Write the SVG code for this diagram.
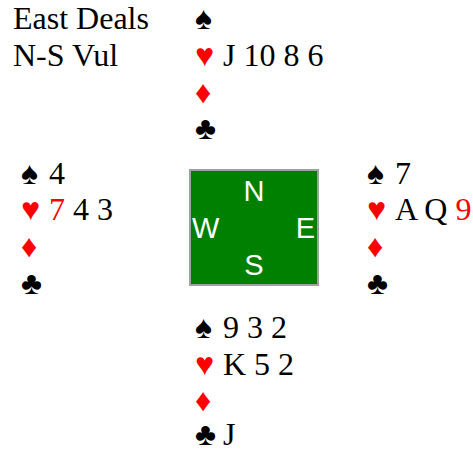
<svg xmlns="http://www.w3.org/2000/svg" width="473" height="452" viewBox="0 0 473 452">
<style>
text { font-family: "Liberation Serif", "Times New Roman", serif; font-size: 32px; fill: #000; }
.r { fill: #ff0000; }
.k { fill: #000; }
.dir { font-family: "Liberation Sans", Arial, sans-serif; font-size: 29px; fill: #fff; }
</style>
<rect width="473" height="452" fill="#fff"/>
<g id="info">
<text x="13" y="29">East Deals</text>
<text x="13" y="66">N-S Vul</text>
</g>
<g id="north">
<text x="195" y="29">♠</text>
<text x="195" y="66" class="r">♥</text><text x="223" y="66">J 10 8 6</text>
<text x="195" y="103" class="r">♦</text>
<text x="195" y="139">♣</text>
</g>
<g id="west">
<text x="21" y="184">♠</text><text x="49" y="184">4</text>
<text x="21" y="220" class="r">♥</text><text x="49" y="220"><tspan class="r">7</tspan> 4 3</text>
<text x="21" y="257" class="r">♦</text>
<text x="21" y="294">♣</text>
</g>
<g id="east">
<text x="367" y="184">♠</text><text x="395" y="184">7</text>
<text x="367" y="220" class="r">♥</text><text x="395" y="220">A Q <tspan class="r">9</tspan></text>
<text x="367" y="257" class="r">♦</text>
<text x="367" y="294">♣</text>
</g>
<g id="south">
<text x="195" y="338">♠</text><text x="223" y="338">9 3 2</text>
<text x="195" y="375" class="r">♥</text><text x="223" y="375">K 5 2</text>
<text x="195" y="411" class="r">♦</text>
<text x="195" y="445">♣</text><text x="223" y="445">J</text>
</g>
<g id="table">
<rect x="190" y="170" width="128" height="115" fill="#008000" stroke="#a0a0a0" stroke-width="2"/>
<text class="dir" x="254" y="201" text-anchor="middle">N</text>
<text class="dir" x="192" y="238">W</text>
<text class="dir" x="315" y="238" text-anchor="end">E</text>
<text class="dir" x="254" y="275" text-anchor="middle">S</text>
</g>
</svg>
